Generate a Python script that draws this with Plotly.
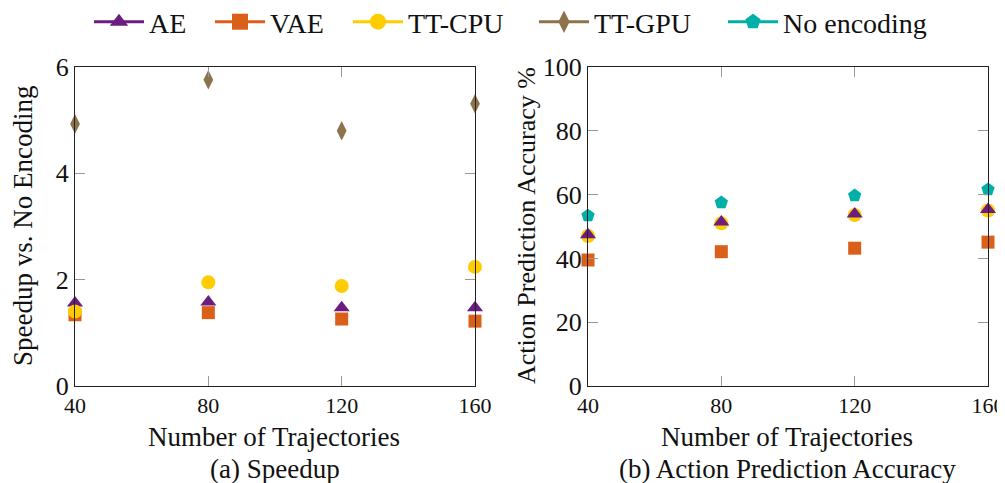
import plotly.graph_objects as go

trajectories = [40, 80, 120, 160]

# (a) Speedup vs. no encoding
speed_ae = [1.56, 1.58, 1.47, 1.47]
speed_vae = [1.34, 1.38, 1.26, 1.22]
speed_tt_cpu = [1.40, 1.95, 1.88, 2.24]
speed_tt_gpu = [4.93, 5.76, 4.80, 5.31]

# (b) Action prediction accuracy %
acc_ae = [47.4, 51.4, 53.9, 55.3]
acc_vae = [39.5, 42.1, 43.2, 45.1]
acc_tt_cpu = [47.0, 51.0, 53.6, 55.0]
acc_no_enc = [53.4, 57.5, 59.7, 61.6]

x_ticks = [40, 80, 120, 160]
y_ticks_a = [0, 2, 4, 6]
y_ticks_b = [0, 20, 40, 60, 80, 100]

names = ["AE", "VAE", "TT-CPU", "TT-GPU", "No encoding"]
colors = {"AE": "#6B1E80", "VAE": "#DA6019", "TT-CPU": "#FFCC00",
          "TT-GPU": "#8C734B", "No encoding": "#00AFA8"}
symbols = {"AE": "triangle-up", "VAE": "square", "TT-CPU": "circle",
           "TT-GPU": "diamond-tall", "No encoding": "pentagon"}
sizes = {"AE": 14, "VAE": 13, "TT-CPU": 14, "TT-GPU": 14, "No encoding": 14}

FONT = "Liberation Serif, DejaVu Serif, serif"

# page has an 8px body margin: figure origin sits at page (8, 8)
OFF = 8
W, H = 1005 - OFF, 483 - OFF
ML, MR, MT, MB = 75 - OFF, 17, 67 - OFF, 97
PW = W - ML - MR
PH = H - MT - MB

fig = go.Figure()

def add(name, ys, xa, ya):
    fig.add_trace(go.Scatter(
        x=trajectories, y=ys, mode="markers", xaxis=xa, yaxis=ya,
        showlegend=False, name=name, cliponaxis=False,
        marker=dict(symbol=symbols[name], size=sizes[name], color=colors[name],
                    line=dict(width=0))))

add("AE", speed_ae, "x", "y")
add("VAE", speed_vae, "x", "y")
add("TT-CPU", speed_tt_cpu, "x", "y")
add("TT-GPU", speed_tt_gpu, "x", "y")

add("VAE", acc_vae, "x2", "y2")
add("TT-CPU", acc_tt_cpu, "x2", "y2")
add("AE", acc_ae, "x2", "y2")
add("No encoding", acc_no_enc, "x2", "y2")

def fx(page_x):
    return (page_x - OFF - ML) / PW

def fy(page_y):
    return (H - MB - (page_y - OFF)) / PH

# legend: one single-entry legend per series, spread like the reference
ITEMW = 50
legend_text_start = [151, 272, 410, 596, 785]  # page x where each label begins
legend_ids = ["legend", "legend2", "legend3", "legend4", "legend5"]
legend_layout = {}
for n, lid, tx in zip(names, legend_ids, legend_text_start):
    fig.add_trace(go.Scatter(
        x=[None], y=[None], mode="lines+markers", name=n, showlegend=True, legend=lid,
        line=dict(color=colors[n], width=3),
        marker=dict(symbol=symbols[n], size=sizes[n] + 5, color=colors[n], line=dict(width=0))))
    legend_layout[lid] = dict(
        orientation="h", x=fx(tx - ITEMW - 12), xanchor="left", y=fy(22), yanchor="middle",
        font=dict(family=FONT, size=28), itemwidth=ITEMW,
        bgcolor="rgba(0,0,0,0)", borderwidth=0)

axis_common = dict(
    showline=True, linecolor="#222", linewidth=1, mirror="ticks",
    ticks="inside", ticklen=10, tickcolor="#999", tickwidth=1,
    showgrid=False, zeroline=False, automargin=False,
)

fig.update_layout(
    width=W, height=H,
    paper_bgcolor="white", plot_bgcolor="white",
    margin=dict(l=ML, r=MR, t=MT, b=MB, autoexpand=False),
    font=dict(family=FONT, color="#111", size=24),
    showlegend=True,
    xaxis=dict(domain=[fx(75), fx(475)], range=[40, 160], tickvals=x_ticks,
               tickfont=dict(size=22), ticklabelstandoff=0, anchor="y", **axis_common),
    yaxis=dict(domain=[0, 1], range=[0, 6], tickvals=y_ticks_a,
               tickfont=dict(size=26), anchor="x", **axis_common),
    xaxis2=dict(domain=[fx(588), 1], range=[40, 160], tickvals=x_ticks,
                tickfont=dict(size=22), ticklabelstandoff=0, anchor="y2", **axis_common),
    yaxis2=dict(domain=[0, 1], range=[0, 100], tickvals=y_ticks_b,
                tickfont=dict(size=26), anchor="x2", **axis_common),
    **legend_layout,
)

def ann(text, x, y, angle=0, size=26):
    fig.add_annotation(text=text, x=fx(x), y=fy(y), xref="paper", yref="paper",
                       showarrow=False, textangle=angle, xanchor="center", yanchor="middle",
                       font=dict(family=FONT, size=size, color="#111"))

ann("Number of Trajectories", 274, 437, size=27)
ann("Number of Trajectories", 787, 437, size=27)
ann("(a) Speedup", 275, 469, size=27)
ann("(b) Action Prediction Accuracy", 787, 469, size=27)
ann("Speedup vs. No Encoding", 23, 226, angle=-90, size=27)
ann("Action Prediction Accuracy %", 526, 226, angle=-90, size=26)

# keep the page free of scrollbars so nothing at the right edge is hidden
fig.write_html(
    "out.html",
    post_script="document.documentElement.style.overflow='hidden';"
                "document.body.style.overflow='hidden';",
)
